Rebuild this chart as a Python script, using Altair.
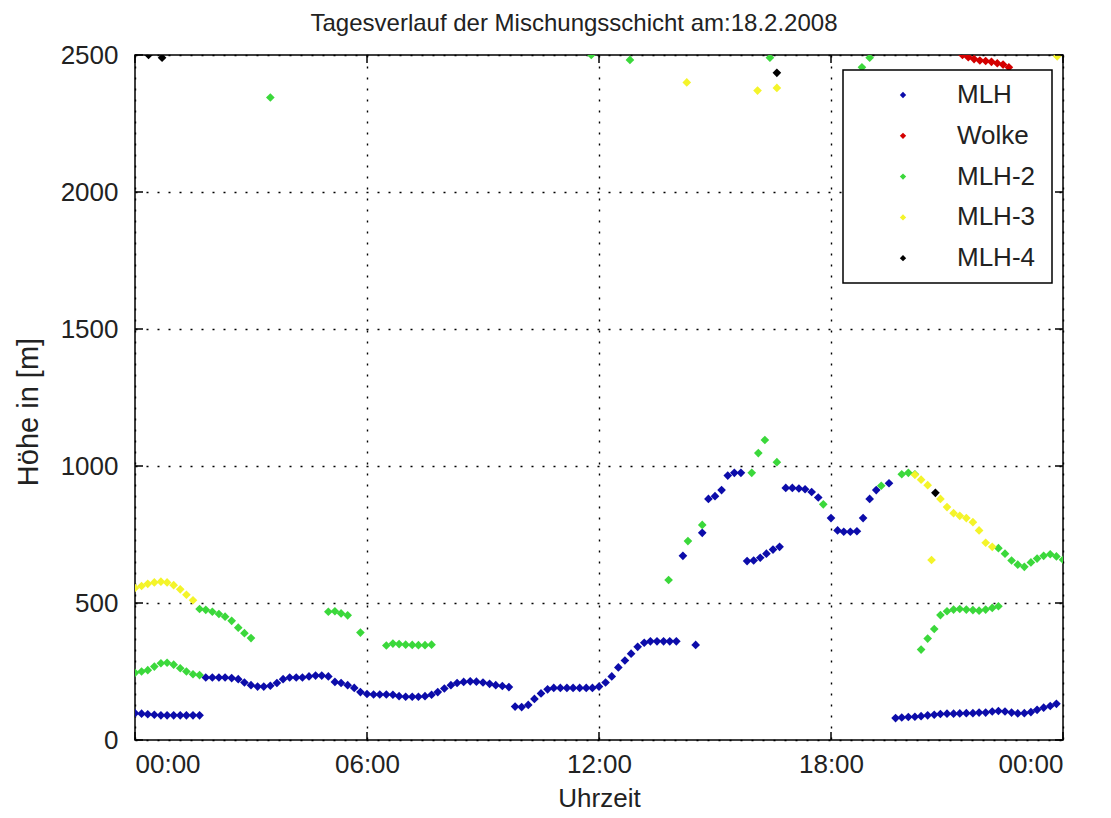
import altair as alt
import pandas as pd

series_names = ["MLH", "Wolke", "MLH-2", "MLH-3", "MLH-4"]
series_colors = ["#0c0caa", "#d40000", "#3bd83b", "#f4f42a", "#000000"]

x_ticks = [0, 6, 12, 18, 24]
y_ticks = [0, 500, 1000, 1500, 2000, 2500]

# MLH (blue)
mlh_h = [0, 0.17, 0.33, 0.5, 0.67, 0.83, 1.0, 1.17, 1.33, 1.5, 1.67,
         1.83, 2.0, 2.17, 2.33, 2.5, 2.67, 2.83, 3.0, 3.17, 3.33, 3.5, 3.67, 3.83,
         4.0, 4.17, 4.33, 4.5, 4.67, 4.83, 5.0, 5.17, 5.33, 5.5, 5.67, 5.83,
         6.0, 6.17, 6.33, 6.5, 6.67, 6.83, 7.0, 7.17, 7.33, 7.5, 7.67, 7.83,
         8.0, 8.17, 8.33, 8.5, 8.67, 8.83, 9.0, 9.17, 9.33, 9.5, 9.67,
         9.83, 10.0, 10.17, 10.33, 10.5, 10.67, 10.83, 11.0, 11.17, 11.33, 11.5, 11.67, 11.83,
         12.0, 12.17, 12.33, 12.5, 12.67, 12.83, 13.0, 13.17, 13.33, 13.5, 13.67, 13.83, 14.0,
         14.17, 14.5, 14.67, 14.83, 15.0, 15.17, 15.33, 15.5, 15.67,
         15.83, 16.0, 16.17, 16.33, 16.5, 16.67,
         16.83, 17.0, 17.17, 17.33, 17.5, 17.67, 18.0, 18.17, 18.33, 18.5, 18.67,
         18.83, 19.0, 19.17, 19.5,
         19.67, 19.83, 20.0, 20.17, 20.33, 20.5, 20.67, 20.83, 21.0, 21.17, 21.33, 21.5,
         21.67, 21.83, 22.0, 22.17, 22.33, 22.5, 22.67, 22.83, 23.0, 23.17, 23.33, 23.5,
         23.67, 23.83]
mlh_v = [98, 96, 94, 92, 90, 90, 90, 90, 90, 90, 90,
         228, 228, 228, 228, 226, 222, 210, 200, 195, 195, 198, 208, 222,
         228, 228, 228, 232, 235, 235, 232, 212, 208, 200, 190, 175,
         168, 166, 166, 166, 165, 160, 158, 158, 158, 160, 165, 175,
         188, 200, 208, 212, 214, 213, 210, 205, 200, 197, 193,
         122, 120, 128, 150, 170, 185, 190, 190, 190, 190, 190, 190, 190,
         195, 210, 232, 265, 290, 315, 340, 355, 360, 360, 360, 360, 360,
         672, 347, 756, 880, 890, 912, 965, 975, 975,
         653, 655, 665, 680, 695, 705,
         920, 920, 918, 915, 905, 885, 810, 765, 760, 760, 762,
         810, 880, 912, 937,
         80, 82, 84, 85, 87, 90, 92, 95, 96, 96, 97, 98,
         98, 100, 100, 104, 106, 104, 100, 97, 98, 102, 110, 118,
         124, 132]

# Wolke (red)
wolke_h = [21.4, 21.55, 21.7, 21.85, 22.0, 22.15, 22.3, 22.45, 22.6]
wolke_v = [2500, 2492, 2485, 2480, 2478, 2475, 2470, 2465, 2455]

# MLH-2 (green)
mlh2_h = [0, 0.17, 0.33, 0.5, 0.67, 0.83, 1.0, 1.17, 1.33, 1.5, 1.67,
          1.67, 1.83, 2.0, 2.17, 2.33, 2.5, 2.67, 2.83, 3.0,
          3.5,
          5.0, 5.17, 5.33, 5.5, 5.83,
          6.5, 6.67, 6.83, 7.0, 7.17, 7.33, 7.5, 7.67,
          11.8, 12.8,
          13.8, 14.3, 14.67,
          15.95, 16.12, 16.29, 16.6, 16.42,
          17.8, 18.8, 19.0, 19.3, 19.83, 20.0, 20.17,
          20.33, 20.5, 20.67, 20.83, 21.0, 21.17, 21.33, 21.5, 21.67, 21.83, 22.0, 22.17, 22.33,
          22.33, 22.5, 22.67, 22.83, 23.0, 23.17, 23.33, 23.5, 23.67, 23.83, 24.0]
mlh2_v = [245, 250, 255, 268, 280, 282, 275, 262, 250, 240, 237,
          478, 475, 468, 460, 450, 435, 410, 390, 372,
          2345,
          468, 470, 462, 455, 392,
          345, 352, 350, 348, 347, 346, 346, 348,
          2500, 2482,
          584, 726, 785,
          975, 1047, 1095, 1014, 2490,
          860, 2455, 2490, 928, 970, 975, 970,
          330, 370, 405, 456, 470, 476, 478, 476, 474, 472, 476, 482, 488,
          700, 680, 655, 640, 632, 648, 662, 672, 678, 670, 658]

# MLH-3 (yellow)
mlh3_h = [0, 0.17, 0.33, 0.5, 0.67, 0.83, 1.0, 1.17, 1.33, 1.5,
          14.27, 16.1, 16.6,
          20.17, 20.33, 20.5, 20.6, 20.83, 21.0, 21.17, 21.33, 21.5, 21.67, 21.83, 22.0, 22.17,
          23.85]
mlh3_v = [555, 562, 570, 575, 578, 575, 565, 550, 530, 510,
          2400, 2370, 2380,
          968, 950, 930, 657, 880, 850, 828, 818, 810, 795, 765, 720, 705,
          2495]

# MLH-4 (black)
mlh4_h = [0.35, 0.7, 16.6, 20.7]
mlh4_v = [2500, 2490, 2435, 902]

rows = []
for i, (name, hs, vs) in enumerate([
        ("MLH", mlh_h, mlh_v), ("Wolke", wolke_h, wolke_v),
        ("MLH-2", mlh2_h, mlh2_v), ("MLH-3", mlh3_h, mlh3_v),
        ("MLH-4", mlh4_h, mlh4_v)]):
    for h, v in zip(hs, vs):
        rows.append({"series": name, "t": h, "v": v, "order": i})
df = pd.DataFrame(rows)

FONT = "Liberation Sans, Arial, sans-serif"
TXT = "#222222"
W, H = 928, 685

color_scale = alt.Scale(domain=series_names, range=series_colors)

x_enc = alt.X("t:Q", title="Uhrzeit",
              scale=alt.Scale(domain=[0, 24], nice=False, zero=False),
              axis=alt.Axis(values=x_ticks,
                            labelExpr="(datum.value % 24 < 10 ? '0' : '') + (datum.value % 24) + ':00'",
                            labelFont=FONT, labelFontSize=26, labelColor=TXT,
                            labelPadding=11, ticks=False, domain=False,
                            grid=True, gridColor="black", gridDash=[2, 9], gridWidth=1.4,
                            titleFont=FONT, titleFontSize=26, titleFontWeight="normal",
                            titleColor=TXT, titlePadding=8))
y_enc = alt.Y("v:Q", title="Höhe in [m]",
              scale=alt.Scale(domain=[0, 2500], nice=False),
              axis=alt.Axis(values=y_ticks, format="d",
                            labelFont=FONT, labelFontSize=26, labelColor=TXT,
                            labelPadding=17, ticks=False, domain=False,
                            grid=True, gridColor="black", gridDash=[2, 9], gridWidth=1.4,
                            titleFont=FONT, titleFontSize=29, titleFontWeight="normal",
                            titleColor=TXT, titleX=-107, titleY=H / 2 + 14,
                            titleBaseline="middle", titleAlign="center"))

points = alt.Chart(df).mark_point(shape="diamond", filled=True, size=75,
                                  opacity=1, clip=True).encode(
    x=x_enc, y=y_enc,
    color=alt.Color("series:N", scale=color_scale, legend=None),
    order="order:Q")

xt = pd.DataFrame({"t": x_ticks})
yt = pd.DataFrame({"v": y_ticks})
tick_x_bottom = alt.Chart(xt).mark_rule(color="black", strokeWidth=1.5).encode(
    x=alt.X("t:Q", title="Uhrzeit"), y=alt.value(H), y2=alt.value(H - 8))
tick_x_top = alt.Chart(xt).mark_rule(color="black", strokeWidth=1.5).encode(
    x=alt.X("t:Q", title="Uhrzeit"), y=alt.value(0), y2=alt.value(8))
tick_y_left = alt.Chart(yt).mark_rule(color="black", strokeWidth=1.5).encode(
    y=alt.Y("v:Q", title="Höhe in [m]"), x=alt.value(0), x2=alt.value(8))
tick_y_right = alt.Chart(yt).mark_rule(color="black", strokeWidth=1.5).encode(
    y=alt.Y("v:Q", title="Höhe in [m]"), x=alt.value(W), x2=alt.value(W - 8))

# legend
leg_df = pd.DataFrame({"series": series_names, "idx": list(range(len(series_names)))})
leg_box = alt.Chart(pd.DataFrame({"a": [0]})).mark_rect(
    fill="white", stroke="black", strokeWidth=1.5).encode(
    x=alt.value(708), x2=alt.value(917), y=alt.value(15), y2=alt.value(228))
leg_sym = alt.Chart(leg_df).transform_calculate(ly="40 + datum.idx * 40.8").mark_point(
    shape="diamond", filled=True, size=40, opacity=1).encode(
    x=alt.value(768), y=alt.Y("ly:Q", scale=None, axis=None),
    color=alt.Color("series:N", scale=color_scale, legend=None))
leg_txt = alt.Chart(leg_df).transform_calculate(ly="40 + datum.idx * 40.8").mark_text(
    align="left", baseline="middle", font=FONT, fontSize=26, color=TXT).encode(
    x=alt.value(822), y=alt.Y("ly:Q", scale=None, axis=None), text="series:N")

chart = alt.layer(points, tick_x_bottom, tick_x_top, tick_y_left, tick_y_right,
                  leg_box, leg_sym, leg_txt).properties(
    width=W, height=H,
    title=alt.Title("Tagesverlauf der Mischungsschicht am:18.2.2008",
                    font=FONT, fontSize=24, fontWeight="normal", color=TXT,
                    anchor="middle", frame="group", baseline="bottom",
                    offset=17, dx=-25, dy=35),
    autosize=alt.AutoSizeParams(type="none"),
    padding={"left": 135, "top": 55, "right": 48, "bottom": 78},
    background="white",
).configure_view(stroke="black", strokeWidth=1.5)

chart.save("out.html", embed_options={"renderer": "svg", "actions": False})
